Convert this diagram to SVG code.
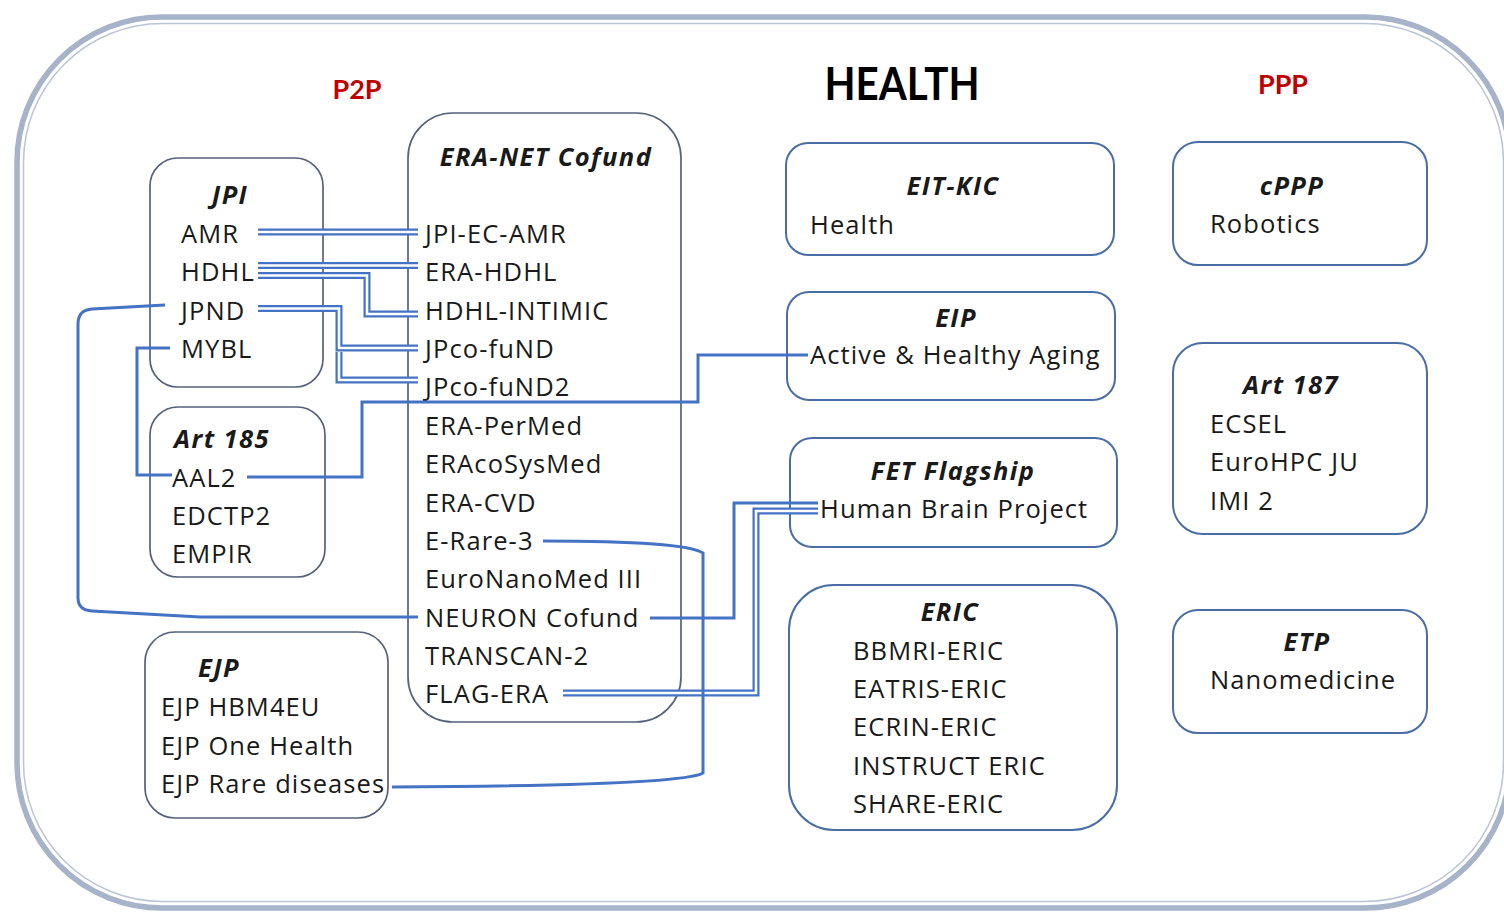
<svg xmlns="http://www.w3.org/2000/svg" xmlns:xlink="http://www.w3.org/1999/xlink" width="1504" height="913" viewBox="0 0 1504 913">
<style>
.frameO{fill:none;stroke:#a6b3c8;stroke-width:5.5}
.frameI{fill:none;stroke:#b9c4d6;stroke-width:1.5}
.boxL{fill:none;stroke:#56627a;stroke-width:1.7}
.boxR{fill:none;stroke:#4a6da6;stroke-width:2}
.t{font-family:"Open Sans",Lato,"Liberation Sans",sans-serif;font-size:25.5px;letter-spacing:1.1px;fill:#1a1a1a}
.h{font-weight:bold;font-style:italic;text-anchor:middle;letter-spacing:1.4px}
.red{font-family:Lato,"Liberation Sans",sans-serif;font-weight:bold;font-size:27px;fill:#c00000;text-anchor:middle}
.title{font-family:Lato,"Liberation Sans",sans-serif;font-weight:bold;font-size:46px;fill:#000;text-anchor:middle}
.c1{fill:none;stroke:#4472c4;stroke-width:3}
.dO{fill:none;stroke:#4472c4;stroke-width:7}
.dI{fill:none;stroke:#ffffff;stroke-width:2.6}
</style>
<defs>
<path id="d1" d="M258,232 H418"/>
<path id="d2" d="M258,265.5 H418"/>
<path id="d3" d="M258,275.5 H367 V314 H418"/>
<path id="d4" d="M258,308.5 H339 V348 H418"/>
<path id="d5" d="M339,352 V380 H418"/>
<path id="d6" d="M563,693 H756 V511 H818"/>
</defs>
<rect width="1504" height="913" fill="#ffffff"/>
<g id="frame">
<rect class="frameO" x="17" y="17" width="1493" height="891" rx="145"/>
<rect class="frameI" x="23.5" y="23.5" width="1480" height="878" rx="139"/>
</g>
<text class="title" x="902" y="100" textLength="155" lengthAdjust="spacingAndGlyphs">HEALTH</text>
<text class="red" x="357" y="99">P2P</text>
<text class="red" x="1283" y="94">PPP</text>

<g id="jpi">
<rect class="boxL" x="150" y="158" width="173" height="229" rx="28"/>
<text class="t h" x="230" y="204">JPI</text>
<text class="t" x="181" y="243">AMR</text>
<text class="t" x="181" y="281">HDHL</text>
<text class="t" x="181" y="320">JPND</text>
<text class="t" x="181" y="358">MYBL</text>
</g>
<g id="eranet">
<rect class="boxL" x="408" y="113" width="273" height="609" rx="45"/>
<text class="t h" x="546" y="166">ERA-NET Cofund</text>
<text class="t" x="425" y="243">JPI-EC-AMR</text>
<text class="t" x="425" y="281">ERA-HDHL</text>
<text class="t" x="425" y="320">HDHL-INTIMIC</text>
<text class="t" x="425" y="358">JPco-fuND</text>
<text class="t" x="425" y="396">JPco-fuND2</text>
<text class="t" x="425" y="435">ERA-PerMed</text>
<text class="t" x="425" y="473">ERAcoSysMed</text>
<text class="t" x="425" y="512">ERA-CVD</text>
<text class="t" x="425" y="550">E-Rare-3</text>
<text class="t" x="425" y="588">EuroNanoMed III</text>
<text class="t" x="425" y="627">NEURON Cofund</text>
<text class="t" x="425" y="665">TRANSCAN-2</text>
<text class="t" x="425" y="703">FLAG-ERA</text>
</g>
<g id="art185">
<rect class="boxL" x="150" y="407" width="175" height="170" rx="28"/>
<text class="t h" x="222" y="448">Art 185</text>
<text class="t" x="172" y="487">AAL2</text>
<text class="t" x="172" y="525">EDCTP2</text>
<text class="t" x="172" y="563">EMPIR</text>
</g>
<g id="ejp">
<rect class="boxL" x="145" y="632" width="243" height="186" rx="30"/>
<text class="t h" x="219" y="677">EJP</text>
<text class="t" x="161" y="716">EJP HBM4EU</text>
<text class="t" x="161" y="755">EJP One Health</text>
<text class="t" x="161" y="793">EJP Rare diseases</text>
</g>
<g id="eitkic">
<rect class="boxR" x="786" y="143" width="328" height="112" rx="22"/>
<text class="t h" x="953" y="195">EIT-KIC</text>
<text class="t" x="810" y="234">Health</text>
</g>
<g id="eip">
<rect class="boxR" x="787" y="292" width="328" height="108" rx="22"/>
<text class="t h" x="956" y="327">EIP</text>
<text class="t" x="810" y="364">Active &amp; Healthy Aging</text>
</g>
<g id="fet">
<rect class="boxR" x="790" y="438" width="327" height="109" rx="22"/>
<text class="t h" x="953" y="480">FET Flagship</text>
<text class="t" x="820" y="518">Human Brain Project</text>
</g>
<g id="eric">
<rect class="boxR" x="789" y="585" width="328" height="245" rx="45"/>
<text class="t h" x="950" y="621">ERIC</text>
<text class="t" x="853" y="660">BBMRI-ERIC</text>
<text class="t" x="853" y="698">EATRIS-ERIC</text>
<text class="t" x="853" y="736">ECRIN-ERIC</text>
<text class="t" x="853" y="775">INSTRUCT ERIC</text>
<text class="t" x="853" y="813">SHARE-ERIC</text>
</g>
<g id="cppp">
<rect class="boxR" x="1173" y="142" width="254" height="123" rx="25"/>
<text class="t h" x="1292" y="195">cPPP</text>
<text class="t" x="1210" y="233">Robotics</text>
</g>
<g id="art187">
<rect class="boxR" x="1173" y="343" width="254" height="191" rx="30"/>
<text class="t h" x="1291" y="394">Art 187</text>
<text class="t" x="1210" y="433">ECSEL</text>
<text class="t" x="1210" y="471">EuroHPC JU</text>
<text class="t" x="1210" y="510">IMI 2</text>
</g>
<g id="etp">
<rect class="boxR" x="1173" y="610" width="254" height="123" rx="25"/>
<text class="t h" x="1307" y="651">ETP</text>
<text class="t" x="1210" y="689">Nanomedicine</text>
</g>

<g id="connectors">
<use href="#d1" xlink:href="#d1" class="dO"/>
<use href="#d2" xlink:href="#d2" class="dO"/>
<use href="#d3" xlink:href="#d3" class="dO"/>
<use href="#d4" xlink:href="#d4" class="dO"/>
<use href="#d5" xlink:href="#d5" class="dO"/>
<use href="#d6" xlink:href="#d6" class="dO"/>
<use href="#d1" xlink:href="#d1" class="dI"/>
<use href="#d2" xlink:href="#d2" class="dI"/>
<use href="#d3" xlink:href="#d3" class="dI"/>
<use href="#d4" xlink:href="#d4" class="dI"/>
<use href="#d5" xlink:href="#d5" class="dI"/>
<use href="#d6" xlink:href="#d6" class="dI"/>
<path class="c1" d="M165,305 L92,309 Q78,310 78,324 V598 Q78,610 92,611 L200,617 H418"/>
<path class="c1" d="M170,348 H137 V475 H172"/>
<path class="c1" d="M247,477 H362 V402 H698 V355 H808"/>
<path class="c1" d="M543,541 C640,541 690,545 703,553 V773 C690,781 600,786 392,787"/>
<path class="c1" d="M650,618 H734 V503 H818"/>
</g>
</svg>
